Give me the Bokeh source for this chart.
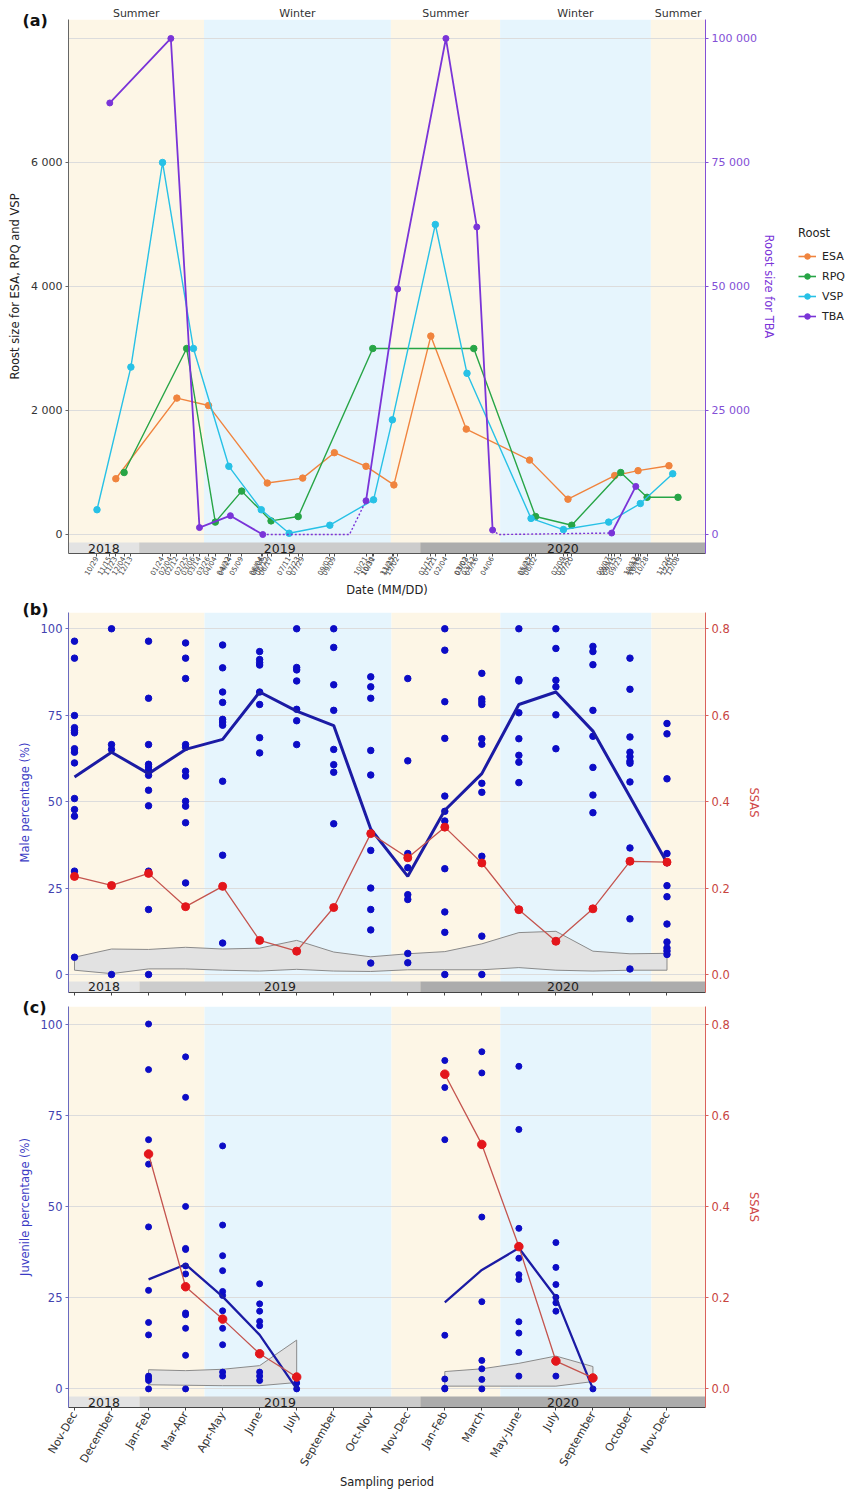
import math
import numpy as np
import pandas as pd
from bokeh.plotting import figure
from bokeh.models import (Range1d, LinearAxis, FixedTicker, Legend, LegendItem,
                          Title, NumeralTickFormatter)
from bokeh.layouts import column, row
from bokeh.embed import file_html
from bokeh.resources import INLINE
from bokeh.core.properties import value

FONT = "DejaVu Sans"

# ---------------- Panel (a) data: roost sizes ----------------
esa_dates = ["2018-11-23", "2019-02-12", "2019-03-26", "2019-06-12", "2019-07-29",
             "2019-09-09", "2019-10-21", "2019-11-27", "2020-01-15", "2020-03-02",
             "2020-05-25", "2020-07-15", "2020-09-15", "2020-10-16", "2020-11-26"]
esa_size = [900, 2200, 2080, 830, 910, 1320, 1100, 800, 3200, 1700, 1200, 570, 950, 1030, 1110]

rpq_dates = ["2018-12-04", "2019-02-25", "2019-04-04", "2019-05-09", "2019-06-17",
             "2019-07-23", "2019-10-30", "2020-03-12", "2020-06-02", "2020-07-20",
             "2020-09-23", "2020-10-28", "2020-12-08"]
rpq_size = [1000, 3000, 200, 700, 220, 290, 3000, 3000, 290, 150, 1000, 600, 600]

vsp_dates = ["2018-10-29", "2018-12-13", "2019-01-24", "2019-03-06", "2019-04-22",
             "2019-06-04", "2019-07-11", "2019-09-03", "2019-10-31", "2019-11-25",
             "2020-01-21", "2020-03-03", "2020-05-27", "2020-07-09", "2020-09-07",
             "2020-10-19", "2020-12-01"]
vsp_size = [400, 2700, 6000, 3000, 1100, 400, 20, 150, 560, 1850, 5000, 2600, 260, 80, 200, 500, 980]

tba_dates = ["2018-11-15", "2019-02-04", "2019-03-14", "2019-04-24", "2019-06-06",
             "2019-10-21", "2019-12-02", "2020-02-04", "2020-03-16", "2020-04-06",
             "2020-09-11", "2020-10-13"]
tba_size = [87000, 100000, 1400, 3800, 0, 6800, 49500, 100000, 62000, 900, 300, 9700]

# TBA absent periods (dotted)
tba_gap1_dates = ["2019-06-06", "2019-09-29", "2019-10-21"]
tba_gap1_size = [0, 0, 6800]
tba_gap2_dates = ["2020-04-06", "2020-04-14", "2020-09-11"]
tba_gap2_size = [900, 0, 300]

roost_names = ["ESA", "RPQ", "VSP", "TBA"]
season_names = ["Summer", "Winter", "Summer", "Winter", "Summer"]
year_names = ["2018", "2019", "2020"]

# ---------------- Panels (b), (c) data ----------------
period_labels = ["Nov-Dec", "December", "Jan-Feb", "Mar-Apr", "Apr-May", "June", "July",
                 "September", "Oct-Nov", "Nov-Dec", "Jan-Feb", "March", "May-June", "July",
                 "September", "October", "Nov-Dec"]

male_points = [
    [96.4, 91.5, 74.9, 71.4, 70.6, 69.9, 65.3, 64.3, 61.2, 50.9, 47.7, 45.8, 29.9, 5.0],
    [100, 66.5, 65.1, 0],
    [96.4, 79.9, 66.5, 60.8, 60.0, 59.1, 57.6, 53.3, 48.8, 29.9, 18.8, 0],
    [95.9, 91.5, 85.6, 66.5, 65.7, 58.8, 57.4, 50.1, 48.7, 43.9, 26.5],
    [95.3, 88.7, 81.7, 78.7, 73.8, 73.0, 72.1, 55.9, 34.5, 9.1],
    [93.4, 91.1, 90.2, 89.5, 81.7, 78.1, 68.5, 64.1],
    [100, 88.8, 88.1, 84.9, 76.7, 73.4, 66.5],
    [100, 94.6, 83.8, 76.4, 65.1, 60.7, 58.5, 43.6],
    [86.1, 83.2, 79.9, 64.8, 57.7, 35.9, 25.0, 18.8, 12.9, 3.3],
    [85.6, 61.8, 35.0, 30.9, 23.1, 21.7, 6.1, 3.4],
    [100, 93.8, 78.9, 68.3, 51.6, 47.2, 44.4, 30.6, 18.1, 12.2, 0],
    [87.1, 79.7, 78.9, 78.1, 68.2, 66.6, 55.3, 52.7, 34.2, 11.1, 0],
    [100, 85.3, 84.9, 75.7, 68.2, 63.4, 61.4, 55.5],
    [100, 94.3, 85.1, 83.2, 75.1, 65.3],
    [94.9, 93.4, 89.6, 76.4, 68.9, 59.9, 51.9, 46.8],
    [91.5, 82.5, 68.7, 64.3, 63.0, 61.7, 61.1, 55.7, 36.6, 16.1, 1.6],
    [72.6, 69.6, 56.6, 35.0, 32.3, 25.7, 22.5, 14.6, 9.4, 7.7, 6.8, 5.8],
]
male_mean = [57.1, 64.3, 58.1, 65.1, 68.0, 81.7, 76.2, 72.0, 42.1, 28.4, 47.5, 58.1, 78.1, 81.7, 70.4, 51.4, 32.3]
male_ssas = [0.227, 0.206, 0.234, 0.157, 0.204, 0.079, 0.054, 0.155, 0.326, 0.270, 0.341, 0.258,
             0.150, 0.077, 0.152, 0.262, 0.260]
male_null_hi = [0.040, 0.059, 0.058, 0.063, 0.059, 0.061, 0.079, 0.052, 0.041, 0.048, 0.053, 0.071,
                0.097, 0.100, 0.054, 0.048, 0.049]
male_null_lo = [0.010, 0.002, 0.013, 0.013, 0.010, 0.008, 0.012, 0.008, 0.007, 0.011, 0.011, 0.011,
                0.016, 0.010, 0.008, 0.010, 0.010]

nan = float("nan")
juv_points = [
    [], [],
    [100, 87.5, 68.3, 61.6, 44.4, 27.0, 18.2, 14.8, 3.5, 2.9, 2.3, 0],
    [91.0, 79.9, 50.0, 38.5, 38.2, 33.7, 31.5, 20.8, 20.3, 16.6, 9.2, 0],
    [66.6, 44.9, 36.5, 32.4, 26.7, 25.6, 21.4, 16.6, 12.1, 4.6, 3.5],
    [28.8, 23.3, 21.3, 18.5, 17.3, 4.6, 3.5, 2.3],
    [0, 1.6],
    [], [], [],
    [90.0, 82.6, 68.3, 14.7, 2.7, 0.2, 0],
    [92.4, 86.6, 47.1, 23.9, 7.8, 5.5, 2.6, 0],
    [88.4, 71.1, 44.0, 35.8, 31.3, 30.0, 18.4, 15.3, 10.0, 3.5],
    [40.1, 33.3, 28.6, 25.1, 23.6, 21.3, 3.5],
    [0],
    [], [],
]
juv_mean = [nan, nan, 30.0, 34.1, 25.3, 14.8, 0.0, nan, nan, nan, 23.7, 32.6, 38.6, 25.1, 0.0, nan, nan]
juv_ssas = [nan, nan, 0.515, 0.224, 0.153, 0.077, 0.026, nan, nan, nan, 0.690, 0.536, 0.312, 0.061,
            0.024, nan, nan]
juv_null_hi = [nan, nan, 0.042, 0.040, 0.043, 0.051, 0.107, nan, nan, nan, 0.038, 0.044, 0.056, 0.072,
               0.049, nan, nan]
juv_null_lo = [nan, nan, 0.009, 0.008, 0.007, 0.007, 0.014, nan, nan, nan, 0.006, 0.006, 0.006, 0.006,
               0.016, nan, nan]

# ---------------- Styles / layout constants ----------------
SUMMER_BG = "#fdf6e6"
WINTER_BG = "#e6f5fd"
YEAR_BG = ["#e3e3e3", "#cccccc", "#acacac"]
GRID_C = "#dcdcdc"
ESA_C, RPQ_C, VSP_C, TBA_C = "#f0843e", "#27a546", "#27c1e6", "#7a34d8"
ROOST_COLORS = [ESA_C, RPQ_C, VSP_C, TBA_C]
TBA_AX_C = "#8350d6"
BLUE_DOT = "#0c0cc6"
MEAN_C = "#1b1ba4"
RED_PT = "#e3161b"
RED_LINE = "#c4544e"
RIB_FILL = "#e2e2e2"
RIB_LINE = "#8a8a8a"
LEFT_AX_C, LEFT_LBL_C = "#6a6abf", "#4343b0"
RIGHT_AX_C, RIGHT_LBL_C = "#d9625c", "#c8453f"

ORIGIN = pd.Timestamp("2018-10-29")


def to_days(ds):
    return [float((pd.Timestamp(d) - ORIGIN).days) for d in ds]


XA = (-37.8, 807.5)
YA = (-306.0, 8306.0)
TBA_SCALE = 12.5
A_STRIP_TOP = -129.0
A_SEASON_BOUNDS = to_days(["2019-03-20", "2019-11-23", "2020-04-16", "2020-11-02"])
A_YEAR_BOUNDS = to_days(["2018-12-24", "2020-01-01"])

XB = (-0.162, 17.04)
B_SEASON_BOUNDS = [3.51, 8.56, 11.50, 15.58]
B_YEAR_BOUNDS = [1.755, 9.34]
SSAS_SCALE = 0.008

FRAME_W = 637
BORDER_L = 68
BORDER_R = 136
A_RIGHT = 72
A_HEIGHT = 600
LEGEND_W = 71


def style_axis(ax, line_c, text_c, title_c=None, size="11px"):
    ax.axis_line_color = line_c
    ax.major_tick_line_color = line_c
    ax.minor_tick_line_color = None
    ax.major_tick_in = 0
    ax.major_tick_out = 3
    ax.major_label_text_color = text_c
    ax.major_label_text_font = FONT
    ax.major_label_text_font_size = size
    ax.axis_label_text_font = FONT
    ax.axis_label_text_font_style = "normal"
    ax.axis_label_text_font_size = "11.5px"
    ax.axis_label_text_color = title_c or text_c
    ax.axis_label_standoff = 6
    ax.major_label_standoff = 3


def add_background(p, xr, yr, season_bounds, year_bounds, strip_top):
    edges = [xr[0]] + list(season_bounds) + [xr[1]]
    p.quad(left=edges[:-1], right=edges[1:], bottom=yr[0], top=yr[1],
           fill_color=[SUMMER_BG if i % 2 == 0 else WINTER_BG for i in range(len(edges) - 1)],
           line_color=None, level="image")
    yedges = [xr[0]] + list(year_bounds) + [xr[1]]
    p.quad(left=yedges[:-1], right=yedges[1:], bottom=yr[0], top=strip_top,
           fill_color=YEAR_BG, line_color=None)
    p.text(x=[(a + b) / 2 for a, b in zip(yedges[:-1], yedges[1:])], y=(yr[0] + strip_top) / 2,
           text=year_names, text_align="center", text_baseline="middle",
           text_font=value(FONT), text_font_size="12.5px", text_color="#222222")
    return edges


def tag(p, text, standoff):
    p.add_layout(Title(text=text, align="left", offset=-46, vertical_align="bottom",
                       standoff=standoff, text_font=FONT, text_font_size="16px",
                       text_font_style="bold", text_color="#111111"), "above")


# ================= Panel (a) =================
pa = figure(frame_width=FRAME_W, frame_height=534, min_border_left=BORDER_L,
            min_border_right=A_RIGHT, min_border_top=19, min_border_bottom=46,
            x_range=Range1d(*XA), y_range=Range1d(*YA),
            output_backend="svg", toolbar_location=None, outline_line_color=None)
pa.extra_y_ranges = {"tba": Range1d(YA[0] * TBA_SCALE, YA[1] * TBA_SCALE)}
pa.xgrid.visible = False
pa.ygrid.ticker = FixedTicker(ticks=[0, 2000, 4000, 6000, 8000])
pa.ygrid.grid_line_color = GRID_C

edges_a = add_background(pa, XA, YA, A_SEASON_BOUNDS, A_YEAR_BOUNDS, A_STRIP_TOP)

series_a = [(esa_dates, esa_size), (rpq_dates, rpq_size), (vsp_dates, vsp_size), (tba_dates, tba_size)]
for (ds, vals), col in zip(series_a[:3], ROOST_COLORS[:3]):
    xs = to_days(ds)
    pa.line(xs, vals, line_color=col, line_width=1.4)
    pa.scatter(xs, vals, size=6.5, fill_color=col, line_color=col)

tx = to_days(tba_dates)
segs, cur = [], [0]
for i in range(1, len(tx)):
    if tx[i] - tx[i - 1] > 100:
        segs.append(cur)
        cur = [i]
    else:
        cur.append(i)
segs.append(cur)
for s in segs:
    pa.line([tx[i] for i in s], [tba_size[i] for i in s], y_range_name="tba",
            line_color=TBA_C, line_width=1.8)
for gd, gv in [(tba_gap1_dates, tba_gap1_size), (tba_gap2_dates, tba_gap2_size)]:
    pa.line(to_days(gd), gv, y_range_name="tba", line_color=TBA_C, line_width=1.4, line_dash="2 2")
pa.scatter(tx, tba_size, y_range_name="tba", size=6, fill_color=TBA_C, line_color=TBA_C)

# left axis
la = pa.yaxis[0]
la.ticker = FixedTicker(ticks=[0, 2000, 4000, 6000])
la.major_label_overrides = {0: "0", 2000: "2 000", 4000: "4 000", 6000: "6 000"}
la.axis_label = "Roost size for ESA, RPQ and VSP"
style_axis(la, "#666666", "#333333", "#222222")

# bottom date axis
ba = pa.xaxis[0]
all_days = sorted(set(to_days(esa_dates) + to_days(rpq_dates) + to_days(vsp_dates) + tx))
ba.ticker = FixedTicker(ticks=all_days)
ba.major_label_overrides = {d: (ORIGIN + pd.Timedelta(days=d)).strftime("%m/%d") for d in all_days}
ba.major_label_orientation = math.pi / 3
ba.axis_label = "Date (MM/DD)"
style_axis(ba, "#555555", "#444444", "#222222", size="7px")
ba.major_label_standoff = 1
ba.axis_label_standoff = 1

# right TBA axis
ra = LinearAxis(y_range_name="tba", ticker=FixedTicker(ticks=[0, 25000, 50000, 75000, 100000]),
                major_label_overrides={0: "0", 25000: "25 000", 50000: "50 000",
                                       75000: "75 000", 100000: "100 000"},
                axis_label="Roost size for TBA")
style_axis(ra, TBA_AX_C, TBA_AX_C, TBA_C)
ra.axis_label_standoff = 2
pa.add_layout(ra, "right")

# panel tag (inner) then season labels (outer) above the frame
tag(pa, "(a)", -21)
centers = [round((a + b) / 2, 2) for a, b in zip(edges_a[:-1], edges_a[1:])]
sa = LinearAxis(ticker=FixedTicker(ticks=centers),
                major_label_overrides={c: n for c, n in zip(centers, season_names)})
style_axis(sa, None, "#333333")
sa.major_tick_line_color = None
sa.major_tick_out = 0
sa.major_label_standoff = 0
pa.add_layout(sa, "above")

# ---- legend panel beside (a): same series, drawn outside its visible range ----
pl = figure(width=LEGEND_W, height=A_HEIGHT, x_range=Range1d(-10, -9), y_range=Range1d(-10, -9),
            x_axis_location=None, y_axis_location=None, min_border=0,
            output_backend="svg", toolbar_location=None, outline_line_color=None)
pl.grid.visible = False
items = []
for name, (ds, vals), col in zip(roost_names, series_a, ROOST_COLORS):
    xs = to_days(ds)
    ln = pl.line(xs, vals, line_color=col, line_width=1.6)
    sc = pl.scatter(xs, vals, size=6, fill_color=col, line_color=col)
    items.append(LegendItem(label=name, renderers=[ln, sc]))
legend = Legend(items=items, location=(20, 230), title="Roost",
                border_line_color=None, background_fill_alpha=0,
                label_text_font=FONT, label_text_font_size="11px", label_text_color="#222222",
                title_text_font=FONT, title_text_font_size="11.5px", title_text_font_style="normal",
                title_text_color="#222222", glyph_width=18, glyph_height=14, label_height=16,
                spacing=4, padding=0, margin=0, label_standoff=6, title_standoff=8)
pl.add_layout(legend)


# ================= Panels (b), (c) =================
def make_panel(frame_h, yr, strip_top, min_top, min_bottom, show_labels, left_title,
               pts, mean, ssas, hi, lo, dot_size, mean_w, red_size, tag_text, tag_standoff):
    p = figure(frame_width=FRAME_W, frame_height=frame_h, min_border_left=BORDER_L,
               min_border_right=BORDER_R, min_border_top=min_top, min_border_bottom=min_bottom,
               x_range=Range1d(*XB), y_range=Range1d(*yr),
               output_backend="svg", toolbar_location=None, outline_line_color=None)
    p.extra_y_ranges = {"ssas": Range1d(yr[0] * SSAS_SCALE, yr[1] * SSAS_SCALE)}
    p.xgrid.visible = False
    p.ygrid.ticker = FixedTicker(ticks=[0, 25, 50, 75, 100])
    p.ygrid.grid_line_color = GRID_C
    add_background(p, XB, yr, B_SEASON_BOUNDS, B_YEAR_BOUNDS, strip_top)

    idx = list(range(len(period_labels)))
    # null-model ribbon (split into runs of valid values)
    runs, cur = [], []
    for i in idx:
        if not (math.isnan(hi[i]) or math.isnan(lo[i])):
            cur.append(i)
        elif cur:
            runs.append(cur)
            cur = []
    if cur:
        runs.append(cur)
    for r in runs:
        px = r + r[::-1]
        py = [hi[i] for i in r] + [lo[i] for i in r[::-1]]
        p.patch(px, py, y_range_name="ssas", fill_color=RIB_FILL, line_color=RIB_LINE, line_width=1)

    xs = [i for i in idx for _ in pts[i]]
    ys = [v for i in idx for v in pts[i]]
    p.scatter(xs, ys, size=dot_size, fill_color=BLUE_DOT, line_color=BLUE_DOT)
    p.line(idx, mean, line_color=MEAN_C, line_width=mean_w)
    p.line(idx, ssas, y_range_name="ssas", line_color=RED_LINE, line_width=1.3)
    p.scatter(idx, ssas, y_range_name="ssas", size=red_size, fill_color=RED_PT, line_color=RED_PT)

    ly = p.yaxis[0]
    ly.ticker = FixedTicker(ticks=[0, 25, 50, 75, 100])
    ly.axis_label = left_title
    style_axis(ly, LEFT_AX_C, LEFT_LBL_C, "#3a3ac4", size="11.5px")

    ry = LinearAxis(y_range_name="ssas", ticker=FixedTicker(ticks=[0, 0.2, 0.4, 0.6, 0.8]),
                    formatter=NumeralTickFormatter(format="0.0"), axis_label="SSAS")
    style_axis(ry, RIGHT_AX_C, RIGHT_LBL_C, "#d04848", size="11.5px")
    ry.axis_label_standoff = 14
    p.add_layout(ry, "right")

    bx = p.xaxis[0]
    bx.ticker = FixedTicker(ticks=idx)
    style_axis(bx, "#444444", "#333333", "#222222", size="11px")
    if show_labels:
        bx.major_label_overrides = {i: period_labels[i] for i in idx}
        bx.major_label_orientation = math.pi / 3
        bx.axis_label = "Sampling period"
        bx.major_label_standoff = 2
        bx.axis_label_standoff = 0
    else:
        bx.major_label_overrides = {i: "" for i in idx}
        bx.major_label_text_font_size = "0px"
        bx.major_label_standoff = 0
    tag(p, tag_text, tag_standoff)
    return p


pb = make_panel(380, (-5.2, 104.7), -2.0, 12, 5, False, "Male percentage (%)",
                male_points, male_mean, male_ssas, male_null_hi, male_null_lo,
                6.5, 3.0, 8, "(b)", -13)
pc = make_panel(401, (-5.1, 104.8), -2.1, 9, 70, True, "Juvenile percentage (%)",
                juv_points, juv_mean, juv_ssas, juv_null_hi, juv_null_lo,
                6, 2.3, 8.5, "(c)", -21)

layout = column(row(pa, pl, spacing=0), pb, pc, spacing=0)
open("out.html", "w").write(file_html(layout, INLINE))
